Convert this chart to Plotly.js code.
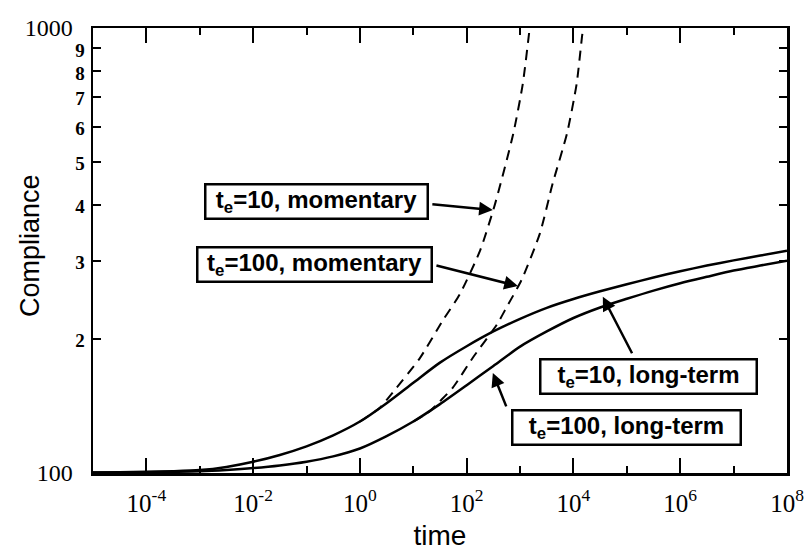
<!DOCTYPE html>
<html>
<head>
<meta charset="utf-8">
<script src="https://cdn.plot.ly/plotly-3.0.1.min.js"></script>
<style>html,body{margin:0;padding:0;background:#fff;}#chart{width:808px;height:556px;}</style>
</head>
<body>
<div id="chart"></div>
<script>
// Long-term compliance curves (time on log axis, half-decade steps)
const timeLT = [1e-5, 3.16e-5, 1e-4, 3.16e-4, 1e-3, 3.16e-3, 1e-2, 3.16e-2, 0.1, 0.316, 1, 3.16, 10, 31.6, 100, 316, 1000, 3162, 1e4, 3.16e4, 1e5, 3.16e5, 1e6, 3.16e6, 1e7, 3.16e7, 1e8];
const te10LongTerm = [100.3, 100.4, 100.6, 100.9, 101.5, 103.2, 106, 109.8, 114.8, 121.5, 130.5, 143.5, 159.5, 177, 192.7, 208, 222, 235, 246, 256, 265.5, 275, 284, 292.5, 300.5, 308, 316];
const te100LongTerm = [100.2, 100.3, 100.4, 100.6, 100.9, 101.6, 102.6, 104, 106, 109, 113.5, 121, 130.5, 142.8, 157.5, 174, 192.3, 208, 223, 235.5, 246.3, 257, 267, 276, 285, 292.5, 300];

// Momentary compliance curves
const timeM10 = [1, 2.34, 4.17, 13.2, 35.5, 74, 178, 339, 741, 1122, 1514, 1660];
const te10Momentary = [130.5, 140, 152, 181, 220, 252, 316, 402, 577, 748, 1000, 1100];
const timeM100 = [10, 20.4, 31.6, 55, 132, 372, 562, 1072, 2344, 4074, 7586, 11482, 14454, 16000];
const te100Momentary = [130.5, 137.6, 145, 155.5, 182, 216, 236, 272, 345, 447, 580, 750, 956, 1050];

// Axis ticks
const xMajorVals = [1e-4, 1e-2, 1, 1e2, 1e4, 1e6, 1e8];
const xMajorText = ['10<sup>-4</sup>', '10<sup>-2</sup>', '10<sup>0</sup>', '10<sup>2</sup>', '10<sup>4</sup>', '10<sup>6</sup>', '10<sup>8</sup>'];
const xMinorVals = [1e-5, 1e-3, 1e-1, 10, 1e3, 1e5, 1e7];
const yTickVals = [100, 200, 300, 400, 500, 600, 700, 800, 900, 1000];
const yTickText = ['100', '2', '3', '4', '5', '6', '7', '8', '9', '1000'];

const labels = [
  {text: 't<sub>e</sub>=10, momentary', px: 316, py: 201, w: 218},
  {text: 't<sub>e</sub>=100, momentary', px: 314, py: 264, w: 230},
  {text: 't<sub>e</sub>=10, long-term', px: 648, py: 376, w: 212},
  {text: 't<sub>e</sub>=100, long-term', px: 626, py: 427, w: 224}
];
// arrow heads (data coords: log10 time, log10 compliance) and tail offsets in px
const arrows = [
  {t: 2.49, c: 2.591, ax: -62, ay: -6},
  {t: 2.96, c: 2.42, ax: -83, ay: -21},
  {t: 4.55, c: 2.396, ax: 30, ay: 58},
  {t: 2.49, c: 2.225, ax: 14, ay: 35}
];

const L = 93, R = 787, T = 28, B = 473;
const W = 808, H = 556;

const lineStyle = {color: '#000', width: 2.5, shape: 'spline', smoothing: 0.7};
const dashStyle = {color: '#000', width: 2, dash: '10px,7px', shape: 'spline', smoothing: 0.6};

const traces = [
  {x: timeLT, y: te10LongTerm, mode: 'lines', line: lineStyle, name: 'te=10 long-term'},
  {x: timeLT, y: te100LongTerm, mode: 'lines', line: lineStyle, name: 'te=100 long-term'},
  {x: timeM10, y: te10Momentary, mode: 'lines', line: dashStyle, name: 'te=10 momentary'},
  {x: timeM100, y: te100Momentary, mode: 'lines', line: dashStyle, name: 'te=100 momentary'}
];

const annotations = [];
labels.forEach(l => annotations.push({
  xref: 'paper', yref: 'paper', x: (l.px - L) / (R - L), y: (B - l.py) / (B - T),
  xanchor: 'center', yanchor: 'middle', text: '<b>' + l.text + '</b>', showarrow: false,
  width: l.w, height: 30, align: 'center', valign: 'middle',
  font: {family: 'Liberation Sans, Arial, sans-serif', size: 24, color: '#000'},
  bgcolor: '#fff', bordercolor: '#000', borderwidth: 2.5, borderpad: 1
}));
arrows.forEach(a => annotations.push({
  xref: 'x', yref: 'y', x: a.t, y: a.c, ax: a.ax, ay: a.ay, text: '',
  showarrow: true, arrowhead: 2, arrowsize: 1.1, arrowwidth: 2.5, arrowcolor: '#000'
}));
// y-axis title placed as a rotated annotation to match its position
annotations.push({
  xref: 'paper', yref: 'paper', x: (30 - L) / (R - L), y: (B - 246) / (B - T),
  xanchor: 'center', yanchor: 'middle', textangle: -90, showarrow: false,
  text: 'Compliance',
  font: {family: 'Liberation Sans, Arial, sans-serif', size: 27, color: '#000'}
});

const yText = yTickText.map(s => s.length === 1
  ? '<span style="font-size:19px;font-weight:bold">' + s + '</span>'
  : s + '\u2002');

const layout = {
  width: W, height: H,
  margin: {l: L, r: W - R, t: T, b: H - B},
  paper_bgcolor: '#fff', plot_bgcolor: '#fff',
  showlegend: false,
  xaxis: {
    type: 'log', range: [-5, 8],
    tickmode: 'array', tickvals: xMajorVals, ticktext: xMajorText,
    ticks: 'inside', ticklen: 15, tickwidth: 2, tickcolor: '#000',
    minor: {tickmode: 'array', tickvals: xMinorVals, ticks: 'inside', ticklen: 7, tickwidth: 2, tickcolor: '#000'},
    showline: true, linecolor: '#000', linewidth: 2.5, mirror: 'allticks',
    showgrid: false, zeroline: false,
    tickfont: {family: 'Liberation Serif, Times New Roman, serif', size: 25, color: '#000'},
    ticklabelstandoff: 6,
    title: {text: 'time', font: {family: 'Liberation Sans, Arial, sans-serif', size: 28, color: '#000'}, standoff: 10}
  },
  yaxis: {
    type: 'log', range: [2, 3],
    tickmode: 'array', tickvals: yTickVals, ticktext: yText,
    ticks: 'inside', ticklen: 8, tickwidth: 2, tickcolor: '#000',
    showline: true, linecolor: '#000', linewidth: 2.5, mirror: 'allticks',
    showgrid: false, zeroline: false,
    tickfont: {family: 'Liberation Serif, Times New Roman, serif', size: 24, color: '#000'},
    ticklabelstandoff: 1
  },
  annotations: annotations
};

Plotly.newPlot('chart', traces, layout, {staticPlot: true, displayModeBar: false});
</script>
</body>
</html>
